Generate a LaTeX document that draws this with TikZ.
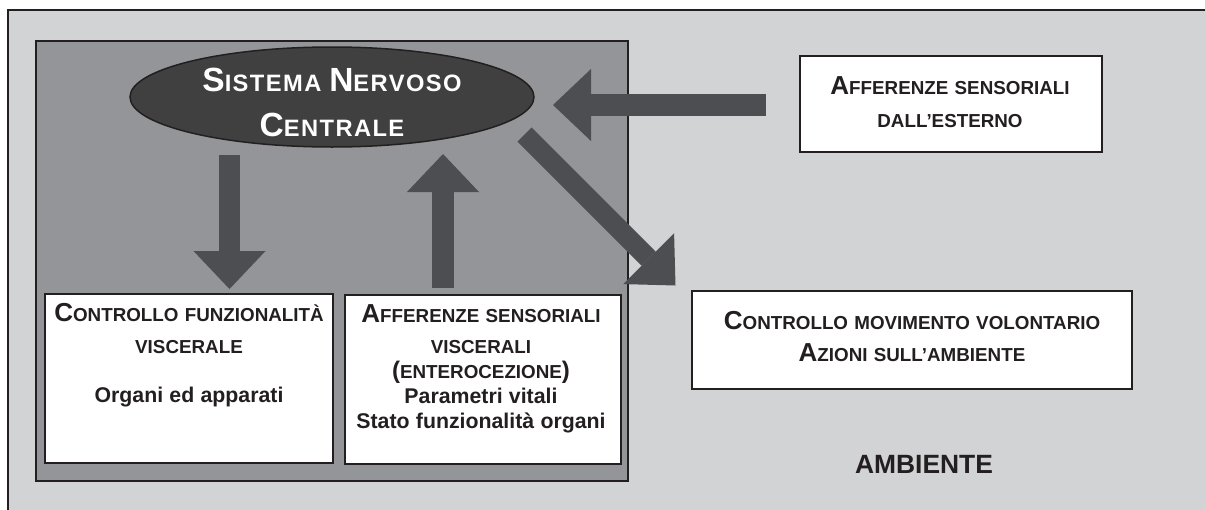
\documentclass[tikz,border=0pt]{standalone}
\usepackage{fontspec}
\setmainfont{Liberation Sans}
\newfontfamily\sncfont{Liberation Sans}[LetterSpace=6]
\usetikzlibrary{arrows.meta,shapes.geometric}
\definecolor{outerbg}{HTML}{D1D3D4}
\definecolor{innerbg}{HTML}{939598}
\definecolor{arrowc}{HTML}{4D4E51}
\definecolor{cnsfill}{HTML}{404041}
\definecolor{ink}{HTML}{231F20}
\newcommand\Bsc[1]{{\fontsize{26}{0}\selectfont #1}}
\newcommand\Bsnc[1]{{\fontsize{33.5}{0}\selectfont #1}}
\newcommand\Body[1]{{\fontsize{21.3}{0}\selectfont #1}}
\newcommand\Par[1]{{\fontsize{24}{0}\selectfont #1}}
\begin{document}
\begin{tikzpicture}[x=1pt,y=-1pt,
  box/.style={draw=ink, line width=2pt, fill=white, inner sep=0pt},
  txt/.style={anchor=base, inner sep=0pt, align=center, text=ink,
    font=\bfseries\fontsize{18.8}{32}\selectfont},
  bigarrow/.style={draw=arrowc, line width=#1, line cap=butt,
    -{Triangle[length=38pt,width=72pt,line width=0pt]}}
]
\useasboundingbox (0,0) rectangle (1205,509);
% frames
\draw[draw=ink, line width=2pt, fill=outerbg] (8,10) rectangle (1230,530);
\draw[draw=ink, line width=2pt, fill=innerbg] (36,41) rectangle (628,481);

% boxes
\node[box, minimum width=288pt, minimum height=169pt] (visc) at (189,378.5) {};
\node[box, minimum width=276pt, minimum height=169pt] (aff) at (483,379.5) {};
\node[box, minimum width=302pt, minimum height=96pt] (ext) at (951,104) {};
\node[box, minimum width=440pt, minimum height=98pt] (mov) at (912,340) {};

% central nervous system
\node[ellipse, draw=ink, line width=1.5pt, fill=cnsfill, minimum width=404pt,
      minimum height=100pt, inner sep=0pt] (cns) at (332,97) {};

% arrow end points
\coordinate (dS) at (229.5,155);
\coordinate (dE) at (229.5,289);
\coordinate (uS) at (443,288);
\coordinate (uE) at (443,154);
\coordinate (hS) at (766,105);
\coordinate (hE) at (553,105);
\coordinate (gS) at (524.5,134.5);
\coordinate (gE) at (675.5,285.5);

\draw[bigarrow=21pt] (dS) -- (dE);
\draw[bigarrow=22pt] (uS) -- (uE);
\draw[bigarrow=22pt] (hS) -- (hE);
\draw[bigarrow=20pt] (gS) -- (gE);

% texts
\node[anchor=base, inner sep=0pt, align=center, text=white, text width=380pt,
      font=\sncfont\bfseries\fontsize{23.7}{45}\selectfont] (cnsText) at (332,91)
  {\Bsnc{S}ISTEMA \Bsnc{N}ERVOSO\\\Bsnc{C}ENTRALE};

\node[txt, text width=300pt, font=\bfseries\fontsize{18.8}{33}\selectfont] (extText) at (950,94)
  {\Bsc{A}FFERENZE SENSORIALI\\DALL’ESTERNO};

\node[txt, text width=436pt] (movText) at (912,329)
  {\Bsc{C}ONTROLLO MOVIMENTO VOLONTARIO\\\Bsc{A}ZIONI SULL’AMBIENTE};

\node[txt, text width=286pt] (viscText) at (189,321)
  {\Bsc{C}ONTROLLO FUNZIONALITÀ\\VISCERALE\\[17pt]\Body{Organi ed apparati}};

\node[txt, text width=274pt, font=\bfseries\fontsize{18.8}{25}\selectfont] (affText) at (481,322)
  {\Bsc{A}FFERENZE SENSORIALI\\[6pt]VISCERALI\\\Par{(}ENTEROCEZIONE\Par{)}\\\Body{Parametri vitali}\\\Body{Stato funzionalità organi}};

\node[anchor=base, inner sep=0pt, text=ink, font=\bfseries\fontsize{26.4}{30}\selectfont] (amb) at (924,473) {AMBIENTE};
\end{tikzpicture}
\end{document}
